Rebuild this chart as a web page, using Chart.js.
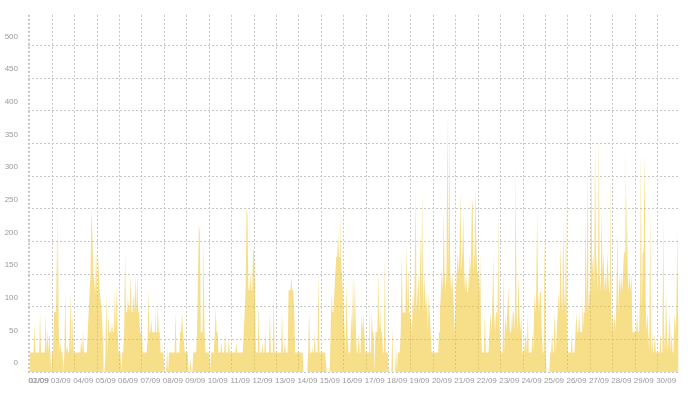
<!DOCTYPE html>
<html>
<head>
<meta charset="utf-8">
<script src="https://cdn.jsdelivr.net/npm/chart.js@4.4.1/dist/chart.umd.min.js"></script>
<style>
html, body { margin: 0; padding: 0; background: #fff; }
#wrap { width: 688px; height: 395px; }
</style>
</head>
<body>
<div id="wrap"><canvas id="load"></canvas></div>
<script>
// one label per day
var dayLabels = ['01/09','02/09','03/09','04/09','05/09','06/09','07/09','08/09','09/09','10/09',
  '11/09','12/09','13/09','14/09','15/09','16/09','17/09','18/09','19/09','20/09',
  '21/09','22/09','23/09','24/09','25/09','26/09','27/09','28/09','29/09','30/09'];
var yTicks = [0, 50, 100, 150, 200, 250, 300, 350, 400, 450, 500];

// hourly values, one row per day (24 values each)
var hourly = [
  [30,30,30,30,30,74,30,30,30,30,30,94,30,30,30,30,30,89,30,64,30,60,30,0],
  [30,30,92,92,212,92,246,60,30,45,30,30,0,30,125,30,40,30,30,30,122,30,92,30],
  [30,30,30,30,30,30,30,50,30,64,30,30,30,30,60,92,120,150,250,212,150,140,120,189],
  [120,179,150,120,107,92,60,0,0,30,122,30,89,61,61,61,75,61,61,125,61,135,61,30],
  [30,30,0,30,30,60,184,92,120,92,110,92,150,92,92,120,92,150,92,150,92,92,60,92],
  [60,30,30,30,30,30,45,125,61,61,80,61,61,61,105,61,61,102,61,61,30,30,30,30],
  [0,0,0,40,0,30,30,30,30,30,30,30,92,30,30,30,30,61,61,92,61,61,30,30],
  [30,30,0,0,20,0,0,30,30,30,30,61,61,227,212,61,61,61,201,61,30,30,30,30],
  [30,0,30,30,30,30,61,97,61,61,30,30,30,45,30,30,30,61,30,30,30,50,30,30],
  [30,30,30,30,30,45,30,30,30,30,30,30,30,61,92,125,252,240,125,125,150,125,125,186],
  [186,125,30,30,30,107,30,30,30,45,30,30,61,30,30,30,40,92,30,30,30,125,30,30],
  [30,30,30,30,30,30,92,30,30,45,30,30,30,125,125,125,145,125,125,90,30,30,30,30],
  [30,30,30,30,30,0,0,0,0,0,30,92,30,30,40,30,30,61,30,30,30,155,30,30],
  [30,30,30,30,30,30,0,0,0,0,61,122,92,92,122,150,176,176,212,176,247,176,150,125],
  [92,61,30,137,61,30,30,30,91,61,150,61,147,61,30,30,61,30,30,91,61,92,61,30],
  [30,30,30,124,30,30,91,61,61,0,61,61,61,158,61,100,61,61,30,30,180,30,30,30],
  [0,0,0,0,68,0,0,0,40,0,30,30,30,61,183,91,91,91,91,198,91,160,91,91],
  [91,61,122,91,150,277,91,122,150,91,216,122,280,91,150,122,91,122,61,122,91,61,30,30],
  [30,30,30,30,30,30,61,91,122,160,122,247,153,122,153,397,153,367,153,122,153,122,91,61],
  [122,153,183,153,183,277,153,183,244,153,122,153,122,153,122,183,153,247,267,153,183,282,183,153],
  [153,122,183,61,30,30,30,91,30,30,30,30,61,91,61,91,180,91,61,91,153,61,244,61],
  [30,30,30,160,30,91,61,91,130,91,61,91,61,91,91,61,313,91,61,150,91,61,91,30],
  [30,30,30,61,30,91,30,30,30,30,61,30,122,91,122,247,122,91,122,122,61,30,30,216],
  [30,0,0,0,0,30,30,61,30,61,91,30,61,91,122,91,200,122,91,232,122,91,257,61],
  [30,30,30,30,61,30,30,30,61,91,61,61,91,61,61,122,61,91,91,247,91,323,91,122],
  [122,339,153,183,122,354,183,153,122,364,153,122,247,153,183,122,153,122,183,153,122,306,153,61],
  [91,61,91,61,122,216,91,153,122,153,122,153,183,352,153,278,153,122,153,122,153,61,61,61],
  [61,61,91,61,122,61,336,91,183,183,339,122,61,91,61,30,247,30,61,30,30,61,30,30],
  [30,30,30,61,30,30,234,61,30,120,61,30,61,91,30,61,30,30,91,61,91,216,91,61]
];

var points = [];
for (var d = 0; d < hourly.length; d++) {
  for (var h = 0; h < 24; h++) {
    points.push({x: d + h / 24, y: hourly[d][h]});
  }
}

var xMin = -0.08, xMax = 28.93;

// grid ticks at each midnight, label ticks in between
function buildXTicks(axis) {
  var t = [{value: xMin, grid: true, txt: ''}];
  for (var i = 0; i < hourly.length; i++) t.push({value: i, grid: true, txt: ''});
  for (var j = 0; j < dayLabels.length; j++) {
    var pos = j == 0 ? 0.41 : j - 0.62;
    t.push({value: pos, grid: false, txt: dayLabels[j]});
  }
  t.sort(function(a, b) { return a.value - b.value; });
  axis.ticks = t;
}

var tickFont = {family: 'Liberation Sans', size: 8};

new Chart(document.getElementById('load'), {
  type: 'line',
  data: {
    datasets: [{
      data: points,
      fill: 'origin',
      backgroundColor: 'rgba(240,190,20,0.5)',
      borderColor: 'rgba(0,0,0,0)',
      borderWidth: 0,
      pointRadius: 0,
      tension: 0
    }]
  },
  options: {
    responsive: true,
    maintainAspectRatio: false,
    animation: false,
    layout: {padding: {top: 13, right: 9.5, left: 0, bottom: 0}},
    plugins: {legend: {display: false}, tooltip: {enabled: false}},
    scales: {
      x: {
        type: 'linear',
        min: xMin,
        max: xMax,
        afterBuildTicks: buildXTicks,
        afterFit: function(s) { s.height = 23; },
        border: {display: false, dash: [2, 2]},
        grid: {
          drawTicks: false,
          color: function(c) { return c.tick && c.tick.grid ? '#c8c8c8' : 'rgba(0,0,0,0)'; }
        },
        ticks: {
          autoSkip: false,
          maxRotation: 0,
          padding: 4,
          color: '#9a9a9a',
          font: tickFont,
          callback: function(v, i, t) { return t[i].txt; }
        }
      },
      y: {
        min: 0,
        max: 547,
        afterBuildTicks: function(axis) {
          axis.ticks = yTicks.map(function(v) { return {value: v}; });
        },
        afterFit: function(s) { s.width = 28; },
        border: {display: false, dash: [2, 2]},
        grid: {drawTicks: false, color: '#c8c8c8'},
        ticks: {
          padding: 10,
          labelOffset: -9,
          color: '#9a9a9a',
          font: tickFont
        }
      }
    }
  }
});
</script>
</body>
</html>
